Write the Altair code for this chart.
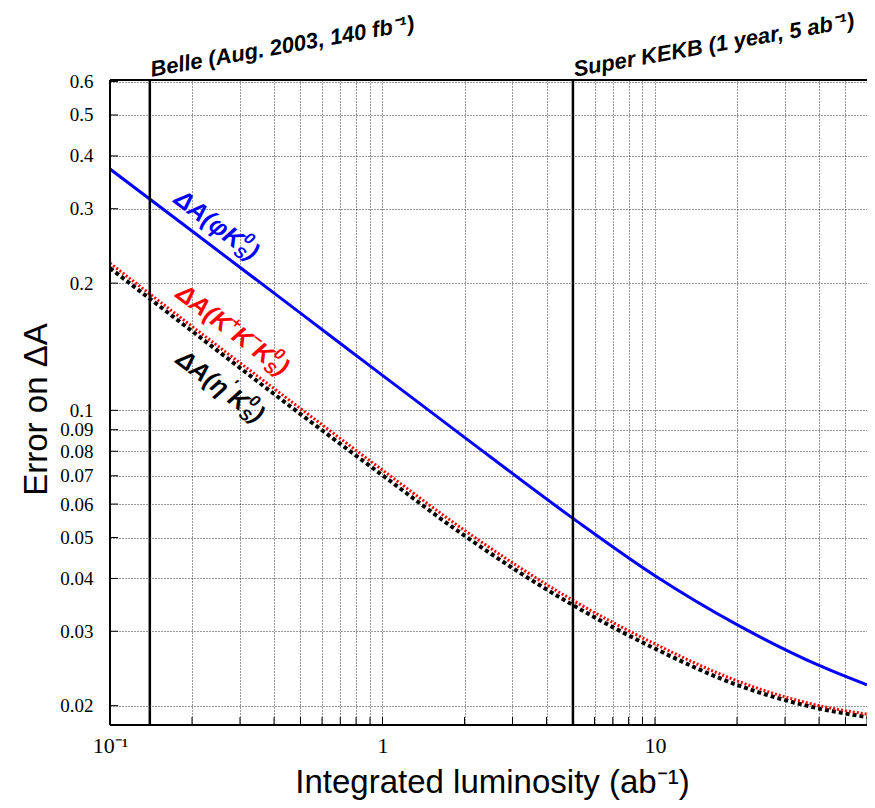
import altair as alt
import pandas as pd

# ---- data ----
lum = [0.1, 0.2, 0.5, 1, 2, 5, 10, 20, 40, 60]
err_phi = [0.3725, 0.2656, 0.1698, 0.1210, 0.0863, 0.0555, 0.0406, 0.0311, 0.0249, 0.0224]
err_kkk = [0.223, 0.158, 0.101, 0.0722, 0.0520, 0.0355, 0.0280, 0.0229, 0.0200, 0.0191]
err_etap = [0.217, 0.154, 0.098, 0.0702, 0.0505, 0.0346, 0.0273, 0.0224, 0.0197, 0.0188]

x_ticks = [0.1, 0.2, 0.3, 0.4, 0.5, 0.6, 0.7, 0.8, 0.9,
           1, 2, 3, 4, 5, 6, 7, 8, 9, 10, 20, 30, 40, 50, 60]
y_ticks = [0.02, 0.03, 0.04, 0.05, 0.06, 0.07, 0.08, 0.09,
           0.1, 0.2, 0.3, 0.4, 0.5, 0.6]
ref_lum = [0.14, 5]
ref_text = ["Belle (Aug. 2003, 140 fb\u207b\u00b9)", "Super KEKB (1 year, 5 ab\u207b\u00b9)"]

# curve label anchors (start of label, in data units)
lab_x = [0.1695, 0.1723, 0.1723]
lab_y = [0.311, 0.186, 0.130]
lab_color = ["#0000ff", "#ff0000", "#000000"]

W, H = 757, 645
xs = alt.Scale(type="log", domain=[0.1, 60], nice=False)
ys = alt.Scale(type="log", domain=[0.018, 0.605], nice=False)

SERIF = "Liberation Serif"
SANS = "Liberation Sans"

x_axis = alt.Axis(
    values=x_ticks, grid=True, ticks=False, domain=False,
    gridColor="#000", gridOpacity=0.8, gridDash=[1, 2], gridWidth=1,
    labelExpr="datum.value == 0.1 ? '10\u207b\u00b9' : datum.value == 1 ? '1' : datum.value == 10 ? '10' : ''",
    labelFontSize=22, labelColor="#000", labelPadding=10,
    labelFlush=False, labelOverlap=False,
    title="Integrated luminosity (ab\u207b\u00b9)", titleFontSize=33,
    titleFontWeight="normal", titleColor="#000", titleX=382, titleY=67,
    titleAlign="center", titleBaseline="alphabetic",
)
y_axis = alt.Axis(
    values=y_ticks, grid=True, ticks=False, domain=False,
    gridColor="#000", gridOpacity=0.8, gridDash=[1, 2], gridWidth=1,
    labelExpr="format(datum.value, '~g')",
    labelFontSize=19, labelColor="#000", labelPadding=17,
    labelFlush=False, labelOverlap=False,
    title="Error on \u0394A", titleFontSize=33,
    titleFontWeight="normal", titleColor="#000", titleX=-64, titleY=329,
    titleAngle=-90, titleAlign="center", titleBaseline="alphabetic",
)

X = lambda: alt.X("x:Q", scale=xs, axis=x_axis)
Y = lambda: alt.Y("y:Q", scale=ys, axis=y_axis)

df_phi = pd.DataFrame({"x": lum, "y": err_phi})
df_kkk = pd.DataFrame({"x": lum, "y": err_kkk})
df_eta = pd.DataFrame({"x": lum, "y": err_etap})

xt = pd.DataFrame({"x": x_ticks})
yt = pd.DataFrame({"y": y_ticks})
xtick = alt.Chart(xt).mark_rule(color="#000", strokeWidth=1).encode(
    x=X(), y=alt.value(H), y2=alt.value(H - 8))
ytick = alt.Chart(yt).mark_rule(color="#000", strokeWidth=1).encode(
    y=Y(), x=alt.value(0), x2=alt.value(8))

frame_l = alt.Chart(xt).mark_rule(color="#000", strokeWidth=2).encode(
    x=alt.value(0), y=alt.value(0), y2=alt.value(H))
frame_t = alt.Chart(xt).mark_rule(color="#000", strokeWidth=2).encode(
    y=alt.value(0), x=alt.value(0), x2=alt.value(W))
frame_b = alt.Chart(xt).mark_rule(color="#000", strokeWidth=2).encode(
    y=alt.value(H), x=alt.value(0), x2=alt.value(W))

line_eta = alt.Chart(df_eta).mark_line(
    color="#000", strokeWidth=4, strokeDash=[4, 3], interpolate="monotone", clip=True
).encode(x=X(), y=Y())
line_kkk = alt.Chart(df_kkk).mark_line(
    color="#ff0000", strokeWidth=3, strokeDash=[2, 2], interpolate="monotone", clip=True
).encode(x=X(), y=Y())
line_phi = alt.Chart(df_phi).mark_line(
    color="#0000ff", strokeWidth=3, interpolate="monotone", clip=True
).encode(x=X(), y=Y())

refdf = pd.DataFrame({"x": ref_lum, "t": ref_text})
vlines = alt.Chart(refdf).mark_rule(color="#000", strokeWidth=2.5).encode(x=X())
vtext = alt.Chart(refdf).mark_text(
    align="left", baseline="alphabetic", angle=350, dx=2, font=SANS,
    fontSize=22, fontStyle="italic", fontWeight="bold", color="#000"
).encode(x=X(), y=alt.value(-3), text="t:N")

# curve labels, built from pieces: (text, dx, dy, size)
pieces = [
    [("\u0394A(\u03c6K", 0, 0, 25), ("0", 79, -12, 16), ("S", 79, 5, 16), (")", 90, 0, 25)],
    [("\u0394A(K", 0, 0, 25), ("+", 61, -11, 16), ("K", 70, 0, 25), ("\u2212", 88, -11, 16),
     ("K", 96, 0, 25), ("0", 114, -12, 16), ("S", 114, 5, 16), (")", 125, 0, 25)],
    [("\u0394A(\u03b7", 0, 0, 25), ("\u2032", 59, -13, 16), ("K", 65, 0, 25),
     ("0", 83, -12, 16), ("S", 83, 5, 16), (")", 94, 0, 25)],
]
label_layers = []
for i, plist in enumerate(pieces):
    d = pd.DataFrame({"x": [lab_x[i]], "y": [lab_y[i]]})
    for (t, dx, dy, sz) in plist:
        label_layers.append(
            alt.Chart(d).mark_text(
                text=t, align="left", baseline="alphabetic", angle=37, dx=dx, dy=dy,
                font=SANS, fontSize=sz, fontStyle="italic", fontWeight="bold",
                color=lab_color[i]
            ).encode(x=X(), y=Y())
        )

chart = alt.layer(xtick, ytick, line_eta, line_kkk, line_phi, vlines, vtext,
                  frame_l, frame_t, frame_b, *label_layers).properties(
    width=W, height=H,
    autosize=alt.AutoSizeParams(type="none"),
    padding={"left": 102, "top": 72, "right": 0, "bottom": 75},
).configure_view(stroke=None).configure_axis(
    labelFont=SERIF, titleFont=SANS
)

chart.save("out.html", embed_options={"renderer": "svg", "actions": False})
